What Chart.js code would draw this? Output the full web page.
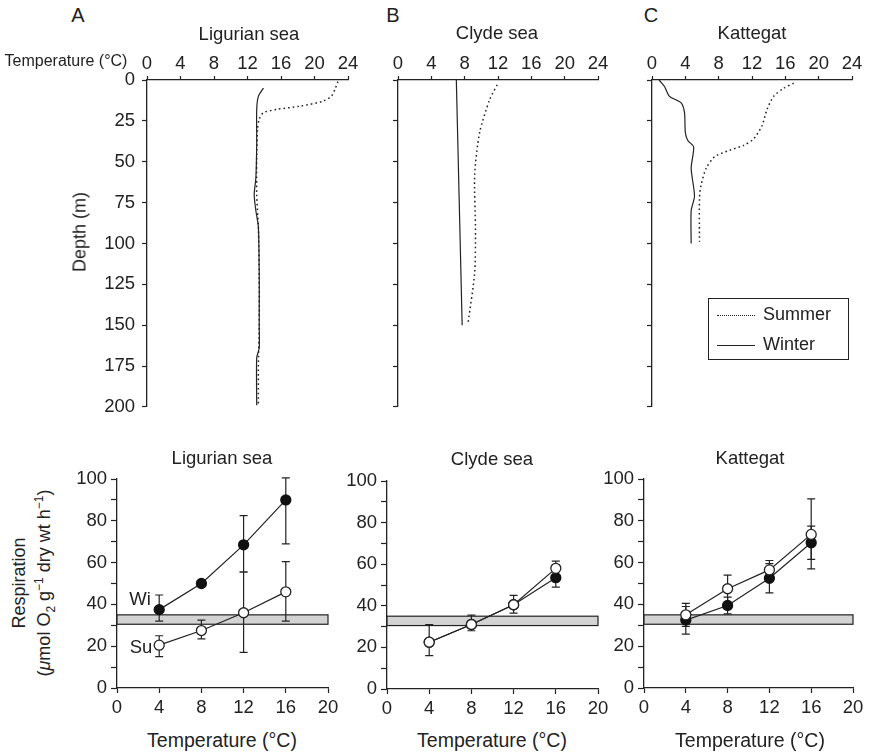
<!DOCTYPE html>
<html lang="en">
<head>
<meta charset="UTF-8" />
<title>Temperature profiles and respiration</title>
<style>
  body { margin: 0; background: #fff; }
  #wrap { position: relative; width: 869px; height: 754px; font-family: "Liberation Sans", Arial, sans-serif; color: #222; }
  canvas { position: absolute; }
  .t { position: absolute; transform: translate(-50%, -50%); white-space: nowrap; font-size: 18.5px; line-height: 1; }
  .rot { position: absolute; transform: translate(-50%, -50%) rotate(-90deg); white-space: nowrap; font-size: 18px; text-align: center; }
  .rot sub, .rot sup { font-size: 12px; line-height: 0; }
  #legend { position: absolute; left: 708px; top: 298px; width: 139px; height: 60px; border: 1px solid #222; font-size: 18px; }
  #legend .row { position: absolute; left: 8px; height: 20px; line-height: 20px; }
  #legend .smp { display: inline-block; width: 38px; vertical-align: middle; margin-right: 8px; }
</style>
</head>
<body>
<div id="wrap">
  <!-- top row: temperature profiles -->
  <canvas id="profA" width="288" height="385" style="left:80px;top:40px"></canvas>
  <canvas id="profB" width="258" height="385" style="left:360px;top:40px"></canvas>
  <canvas id="profC" width="252" height="385" style="left:620px;top:40px"></canvas>
  <!-- bottom row: respiration -->
  <canvas id="respA" width="283" height="258" style="left:60px;top:460px"></canvas>
  <canvas id="respB" width="268" height="259" style="left:345px;top:460px"></canvas>
  <canvas id="respC" width="268" height="258" style="left:600px;top:460px"></canvas>

  <div class="t" style="left:78px;top:15px;font-size:20px">A</div>
  <div class="t" style="left:393px;top:15px;font-size:20px">B</div>
  <div class="t" style="left:651px;top:15px;font-size:20px">C</div>
  <div class="t" style="left:249px;top:34px">Ligurian sea</div>
  <div class="t" style="left:497px;top:33px">Clyde sea</div>
  <div class="t" style="left:752px;top:33px">Kattegat</div>
  <div class="t" style="left:66px;top:61px;font-size:16px">Temperature (°C)</div>
  <div class="rot" style="left:80px;top:232px">Depth (m)</div>

  <div id="legend">
    <div class="row" style="top:5px"><span class="smp" style="border-top:1.5px dotted #222"></span>Summer</div>
    <div class="row" style="top:35px"><span class="smp" style="border-top:1.3px solid #222"></span>Winter</div>
  </div>

  <div class="t" style="left:222px;top:458px">Ligurian sea</div>
  <div class="t" style="left:492px;top:459px">Clyde sea</div>
  <div class="t" style="left:750px;top:458px">Kattegat</div>
  <div class="t" style="left:222px;top:741px;font-size:19.5px">Temperature (°C)</div>
  <div class="t" style="left:492px;top:741px;font-size:19.5px">Temperature (°C)</div>
  <div class="t" style="left:750px;top:741px;font-size:19.5px">Temperature (°C)</div>
  <div class="rot" style="left:32px;top:583px;line-height:25px">Respiration<br>(<i>μ</i>mol O<sub>2</sub> g<sup>−1</sup> dry wt h<sup>−1</sup>)</div>
  <div class="t" style="left:140px;top:599px">Wi</div>
  <div class="t" style="left:141px;top:647px">Su</div>
</div>

<script src="https://cdn.jsdelivr.net/npm/chart.js@4.4.0/dist/chart.umd.min.js"></script>
<script>
  // temperature (°C) vs depth (m)
  const ligSumT = [22.8, 22.5, 22.0, 21.0, 18.3, 15.5, 13.9, 13.4, 13.2, 13.1, 13.1, 13.3, 13.4, 13.4, 13.3, 13.3];
  const ligSumD = [1, 5, 10, 13, 16, 18, 20, 24, 30, 45, 70, 90, 120, 150, 175, 199];
  const ligWinT = [13.9, 13.3, 13.1, 13.1, 13.0, 12.8, 13.0, 13.3, 13.4, 13.4, 13.4, 13.1, 13.1];
  const ligWinD = [5, 10, 18, 40, 60, 70, 80, 90, 120, 150, 164, 170, 199];

  const clySumT = [11.9, 11.0, 9.8, 9.2, 9.3, 9.2, 8.4];
  const clySumD = [3, 12, 32, 58, 92, 118, 149];
  const clyWinT = [7.0, 7.7];
  const clyWinD = [0, 150];

  const katSumT = [17.0, 15.8, 14.6, 13.8, 13.2, 12.2, 11.0, 9.3, 7.5, 6.5, 5.9, 5.7, 5.7];
  const katSumD = [2, 5, 10, 18, 28, 36, 40, 43, 47, 54, 64, 72, 99];
  const katWinT = [0.85, 1.5, 2.1, 3.5, 3.9, 4.0, 4.3, 5.0, 4.7, 5.1, 4.7, 4.7];
  const katWinD = [0, 4, 10, 14, 20, 32, 37, 41, 54, 71, 80, 100];

  // respiration at the test temperatures, with error bar ends
  const testTemps = [4, 8, 12, 16];
  const ligSu = [20.5, 27.5, 36, 46];
  const ligSuLo = [15, 23.5, 17, 32];
  const ligSuHi = [25, 32.5, 55.5, 60.5];
  const ligWi = [37.5, 50, 68.5, 90];
  const ligWiLo = [32, null, 55.5, 69];
  const ligWiHi = [44.5, null, 82.5, 100.5];

  const clySu = [22.5, 31, 40.5, 58];
  const clySuLo = [16, 28, 36.5, 55];
  const clySuHi = [31, 35.5, 45, 61.5];
  const clyWi = [22.5, 31, 40.5, 53.5];
  const clyWiLo = [null, null, null, 49];
  const clyWiHi = [null, null, null, 58];

  const katSu = [35, 47.5, 56.5, 73.5];
  const katSuLo = [29.5, 40.5, 52, 57];
  const katSuHi = [40.5, 54, 61, 90.5];
  const katWi = [32.5, 39.5, 52.5, 69.5];
  const katWiLo = [25.8, 35.5, 45.5, 61.5];
  const katWiHi = [39, 43.5, 59.5, 77.5];

  // grey band of respiration range
  const bandRange = [30.5, 35];

  const INK = '#222';
  const TICK_FONT = { size: 18.5 };
  Chart.defaults.font.family = '"Liberation Sans", Arial, sans-serif';
  Chart.defaults.color = INK;

  function pts(xs, ys) {
    return xs.map((v, i) => ({ x: v, y: ys[i] }));
  }

  // shaded band across the plot, drawn under everything
  const bandPlugin = {
    id: 'band',
    beforeDatasetsDraw(chart, args, opts) {
      if (!opts.range) return;
      const { ctx, scales: { x, y } } = chart;
      const x0 = x.getPixelForValue(x.min), x1 = x.getPixelForValue(x.max);
      const y0 = y.getPixelForValue(opts.range[1]), y1 = y.getPixelForValue(opts.range[0]);
      ctx.save();
      ctx.fillStyle = '#d3d3d3';
      ctx.fillRect(x0, y0, x1 - x0, y1 - y0);
      ctx.strokeStyle = INK;
      ctx.lineWidth = 1.2;
      ctx.strokeRect(x0, y0, x1 - x0, y1 - y0);
      ctx.restore();
    }
  };

  // vertical error bars with caps
  const errPlugin = {
    id: 'errbars',
    beforeDatasetsDraw(chart) {
      const { ctx, scales: { x, y } } = chart;
      ctx.save();
      ctx.strokeStyle = INK;
      ctx.lineWidth = 1.2;
      chart.data.datasets.forEach(ds => {
        if (!ds.errLo) return;
        ds.data.forEach((p, j) => {
          if (ds.errLo[j] == null) return;
          const px = x.getPixelForValue(p.x);
          const ya = y.getPixelForValue(ds.errLo[j]), yb = y.getPixelForValue(ds.errHi[j]);
          ctx.beginPath();
          ctx.moveTo(px, ya); ctx.lineTo(px, yb);
          ctx.moveTo(px - 4, ya); ctx.lineTo(px + 4, ya);
          ctx.moveTo(px - 4, yb); ctx.lineTo(px + 4, yb);
          ctx.stroke();
        });
      });
      ctx.restore();
    }
  };

  function profileChart(id, sumT, sumD, winT, winD, yWidth, showY) {
    new Chart(document.getElementById(id), {
      type: 'scatter',
      data: {
        datasets: [
          { data: pts(sumT, sumD), showLine: true, borderColor: INK, borderWidth: 1.5, borderDash: [1.6, 3], pointRadius: 0, tension: 0.25 },
          { data: pts(winT, winD), showLine: true, borderColor: INK, borderWidth: 1.2, pointRadius: 0, tension: 0.25 }
        ]
      },
      options: {
        responsive: false,
        animation: false,
        devicePixelRatio: 1,
        layout: { padding: { top: 0, right: 20, bottom: 12, left: 0 } },
        plugins: { legend: { display: false }, tooltip: { enabled: false } },
        scales: {
          x: {
            type: 'linear', position: 'top', min: 0, max: 24,
            ticks: { stepSize: 4, font: TICK_FONT, padding: 1, maxRotation: 0, autoSkip: false, color: INK },
            grid: { drawOnChartArea: false, tickLength: 4, tickColor: INK, tickWidth: 1.2 },
            border: { color: INK, width: 1.3 },
            afterFit(s) { s.height = 40; }
          },
          y: {
            type: 'linear', reverse: true, min: 0, max: 200,
            ticks: { stepSize: 25, font: TICK_FONT, padding: 7, autoSkip: false, color: INK,
              callback: v => showY ? v : '' },
            grid: { drawOnChartArea: false, tickLength: 5, tickColor: INK, tickWidth: 1.2 },
            border: { color: INK, width: 1.3 },
            afterFit(s) { s.width = yWidth; }
          }
        }
      }
    });
  }

  function respChart(id, su, suLo, suHi, wi, wiLo, wiHi, yWidth, padTop) {
    new Chart(document.getElementById(id), {
      type: 'scatter',
      plugins: [bandPlugin, errPlugin],
      data: {
        datasets: [
          { label: 'Summer', data: pts(testTemps, su), errLo: suLo, errHi: suHi, showLine: true,
            borderColor: INK, borderWidth: 1.2, pointRadius: 5, pointBackgroundColor: '#fff',
            pointBorderColor: INK, pointBorderWidth: 1.3 },
          { label: 'Winter', data: pts(testTemps, wi), errLo: wiLo, errHi: wiHi, showLine: true,
            borderColor: INK, borderWidth: 1.2, pointRadius: 5, pointBackgroundColor: '#111',
            pointBorderColor: '#111', pointBorderWidth: 1.3 }
        ]
      },
      options: {
        responsive: false,
        animation: false,
        devicePixelRatio: 1,
        layout: { padding: { top: padTop, right: 15, bottom: 0, left: 0 } },
        plugins: { legend: { display: false }, tooltip: { enabled: false }, band: { range: bandRange } },
        scales: {
          x: {
            type: 'linear', position: 'bottom', min: 0, max: 20,
            ticks: { stepSize: 4, font: TICK_FONT, padding: 4, maxRotation: 0, autoSkip: false, color: INK },
            grid: { drawOnChartArea: false, tickLength: 5, tickColor: INK, tickWidth: 1.2 },
            border: { color: INK, width: 1.3 },
            afterFit(s) { s.height = 30; }
          },
          y: {
            type: 'linear', min: 0, max: 100,
            ticks: { stepSize: 10, font: TICK_FONT, padding: 4, autoSkip: false, color: INK,
              callback: v => (v % 20 === 0 ? v : '') },
            grid: { drawOnChartArea: false, tickLength: 6, tickColor: INK, tickWidth: 1.2 },
            border: { color: INK, width: 1.3 },
            afterFit(s) { s.width = yWidth; }
          }
        }
      }
    });
  }

  profileChart('profA', ligSumT, ligSumD, ligWinT, ligWinD, 67, true);
  profileChart('profB', clySumT, clySumD, clyWinT, clyWinD, 38, false);
  profileChart('profC', katSumT, katSumD, katWinT, katWinD, 32, false);

  respChart('respA', ligSu, ligSuLo, ligSuHi, ligWi, ligWiLo, ligWiHi, 57, 19);
  respChart('respB', clySu, clySuLo, clySuHi, clyWi, clyWiLo, clyWiHi, 42, 21);
  respChart('respC', katSu, katSuLo, katSuHi, katWi, katWiLo, katWiHi, 44, 19);
</script>
</body>
</html>
